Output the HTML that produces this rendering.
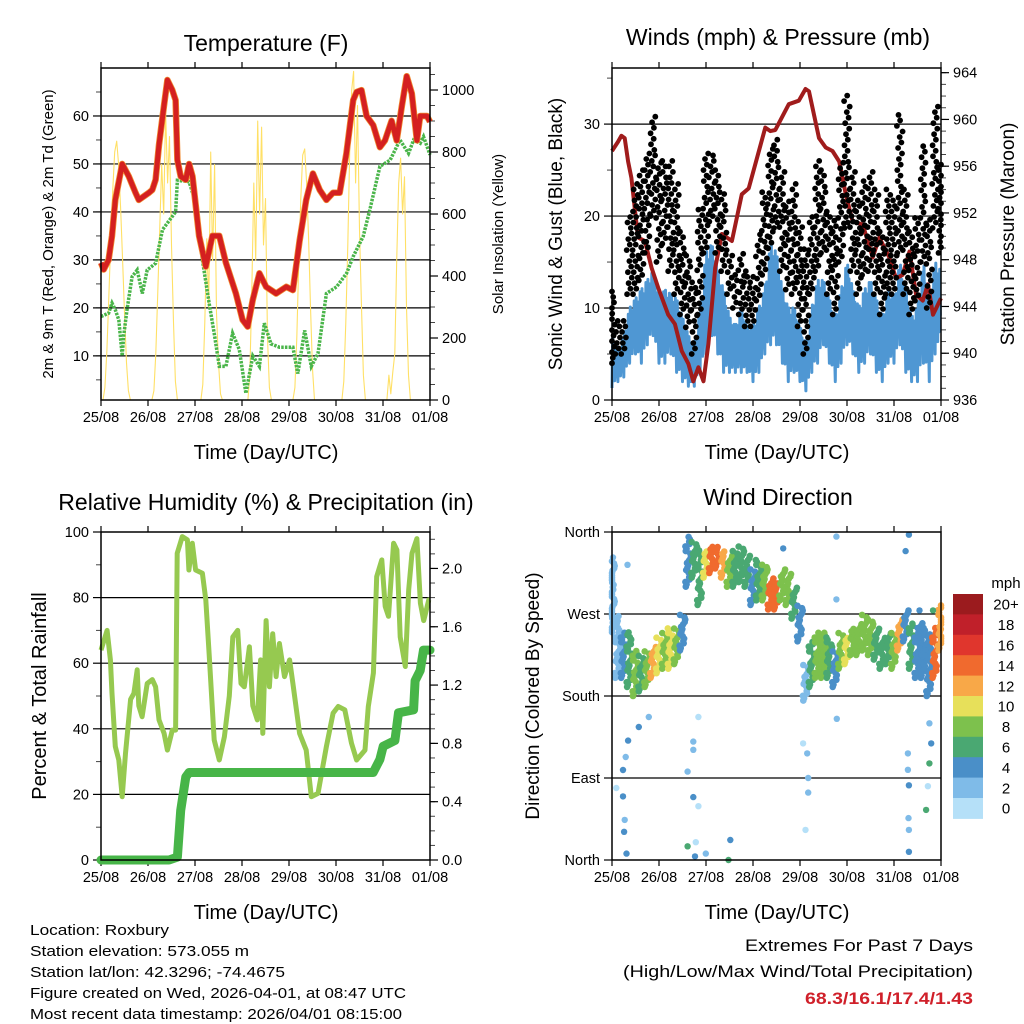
<!DOCTYPE html>
<html><head><meta charset="utf-8"><title>Station meteogram</title>
<style>
html,body{margin:0;padding:0;background:#fff;}
svg{display:block;font-family:"Liberation Sans",Arial,sans-serif;}
</style></head>
<body>
<svg id="fig" width="1024" height="1024" viewBox="0 0 1024 1024" xmlns="http://www.w3.org/2000/svg">
<rect x="0" y="0" width="1024" height="1024" fill="#fff"/>
<text x="266" y="51" font-size="23" text-anchor="middle">Temperature (F)</text>
<text x="778" y="45" font-size="23" text-anchor="middle">Winds (mph) &amp; Pressure (mb)</text>
<text x="266" y="510" font-size="23" text-anchor="middle">Relative Humidity (%) &amp; Precipitation (in)</text>
<text x="778" y="505" font-size="23" text-anchor="middle">Wind Direction</text>
<text x="266" y="459" font-size="20" text-anchor="middle">Time (Day/UTC)</text>
<text x="777" y="459" font-size="20" text-anchor="middle">Time (Day/UTC)</text>
<text x="266" y="919" font-size="20" text-anchor="middle">Time (Day/UTC)</text>
<text x="777" y="919" font-size="20" text-anchor="middle">Time (Day/UTC)</text>
<text transform="translate(53,234) rotate(-90)" font-size="15" text-anchor="middle">2m &amp; 9m T (Red, Orange) &amp; 2m Td (Green)</text>
<text transform="translate(503,234) rotate(-90)" font-size="15" text-anchor="middle">Solar Insolation (Yellow)</text>
<text transform="translate(562,234) rotate(-90)" font-size="19" text-anchor="middle">Sonic Wind &amp; Gust (Blue, Black)</text>
<text transform="translate(1014,234) rotate(-90)" font-size="19" text-anchor="middle">Station Pressure (Maroon)</text>
<text transform="translate(46,696) rotate(-90)" font-size="20" text-anchor="middle">Percent &amp; Total Rainfall</text>
<text transform="translate(539,696) rotate(-90)" font-size="19" text-anchor="middle">Direction (Colored By Speed)</text>
<g font-size="14.5">
<text x="30" y="935" textLength="139" lengthAdjust="spacingAndGlyphs">Location: Roxbury</text>
<text x="30" y="956" textLength="219" lengthAdjust="spacingAndGlyphs">Station elevation: 573.055 m</text>
<text x="30" y="977" textLength="255" lengthAdjust="spacingAndGlyphs">Station lat/lon: 42.3296; -74.4675</text>
<text x="30" y="998" textLength="376" lengthAdjust="spacingAndGlyphs">Figure created on Wed, 2026-04-01, at 08:47 UTC</text>
<text x="30" y="1019" textLength="372" lengthAdjust="spacingAndGlyphs">Most recent data timestamp: 2026/04/01 08:15:00</text>
</g>
<text x="973" y="951" font-size="17" text-anchor="end" textLength="228" lengthAdjust="spacingAndGlyphs">Extremes For Past 7 Days</text>
<text x="973" y="977" font-size="17" text-anchor="end" textLength="350" lengthAdjust="spacingAndGlyphs">(High/Low/Max Wind/Total Precipitation)</text>
<text x="973" y="1004" font-size="17" font-weight="bold" fill="#d0202a" text-anchor="end" textLength="168" lengthAdjust="spacingAndGlyphs">68.3/16.1/17.4/1.43</text>
<text x="1006" y="588" font-size="15" text-anchor="middle">mph</text>
</svg>
<script>
// ---------- DATA ----------
const dayLabels = ["25/08","26/08","27/08","28/08","29/08","30/08","31/08","01/08"];
const tempHours = [0,1.4,3.9,5.6,7.3,10.8,14.2,17.6,19.3,24.5,26.2,27.9,29.6,32.1,33.9,36.4,38.1,39,40.7,43.3,45,46.7,50.1,53.5,56.9,60.4,63.8,68.9,72.3,74.9,77.5,80.9,84.3,89.4,94.6,98,101.4,104.8,108.2,111.7,115.1,118.5,121.9,125.3,128.8,130.5,133,135.6,139,142.4,145,148.4,151,153.6,156.1,158.7,161.3,163,166.4,168];
const tempValues = [29.4,28,30,35,42.5,50,47.4,44,42.5,44,44.6,46.7,54,62,67.5,65.4,63.3,50.8,47.4,46.7,50,47.4,35,28.6,35,35,29.4,23,17.5,16.1,21.7,27.2,24.4,23,24.4,23.7,34,42.5,48,44.6,42.5,44,44,52.2,63.3,65,65.4,60,58.1,53.5,54.9,59,54.9,62,68.3,64.7,54.9,60,60,58.8];
const dewHours = [0,3.9,5.6,7.3,9.1,10.8,11.6,13.3,15.9,18.5,21.1,23.6,27.9,31.4,38.1,39,45,48.4,51.8,55.2,57.8,60.4,63.8,67.2,70.6,74,77.5,80.9,83.4,86.8,91.1,98,100.5,104,107.4,110.8,115.1,120.3,125.4,128.8,133.9,137.3,142.4,147.6,152.7,157,159.6,163,164.7,168];
const dewValues = [18.2,18.9,21,19.6,17.5,10,14.2,19.6,26.5,27.9,23,27.9,29.3,36.3,40,46.6,46.3,41.8,30,21,14.7,7.8,7.8,14.7,11.3,2.2,10,7.8,16.8,12.5,11.8,11.8,6.3,15.3,7.8,10.5,23,24.4,27.2,30.7,34.9,40.5,49.5,50.8,55,52.2,55,54.3,55.7,51.9];
const solarValues = [
0,0,40,160,330,520,680,800,835,760,620,460,280,120,30,0,0,0,0,0,0,0,0,0,
0,0,0,30,150,350,560,760,600,930,700,850,500,250,60,0,0,0,0,0,0,0,0,0,
0,0,0,0,50,250,520,300,800,450,760,280,120,20,0,0,0,0,0,0,0,0,0,0,
0,0,0,0,80,350,700,450,900,600,880,500,650,200,40,0,0,0,0,0,0,0,0,0,
0,0,0,40,200,450,650,790,810,700,520,300,100,0,0,0,0,0,0,0,0,0,0,0,
0,0,0,0,60,250,500,800,1000,1060,700,950,550,300,80,0,0,0,0,0,0,0,0,0,
0,0,0,80,20,90,150,450,700,780,600,720,300,80,0,0,0,0,0,0,0,0,0,0,0];
const gustHigh = [12,9,8.6,20,24,25,27,31,26,26,26.5,24,18.7,15.8,13,21,27,27,25,22.4,16.5,14,16,14,13.6,18,23,27.8,28.5,25,21.7,23.8,19.4,16.5,20,26.5,25,21,20,26,33.6,25,21.7,24,25,23,18.7,23,21.7,31,23,18.7,20,27.8,20,32.1,26];
const gustLow = [4,5,5,11.5,11.5,13,16,20,15,17,14,11.5,9.3,7.9,5,9.3,16,19.4,16,14,11.5,10,9.3,8,8,10.8,13.6,16.5,18.7,14,12,11.5,8,5,11.5,14,16,11.5,9.3,15,18.7,14,11.5,13.6,14,11.5,9.3,11.5,11.5,16,11.5,9.3,10.8,15,10,18.7,16];
const windLow = [1.3,2,2.5,4,5,4,6,7,4,4,5,3,2,1.5,1.5,3,5,7,5,3,3,3,3,3,2,3,5,6,6,4,2,3,2,1,3,4,6,4,2,4,6,5,3,4,5,3,2,4,4,6,3,2,2,4,2,5,6];
const windHigh = [7,5.5,7,10,11,12,13,14,11,12,11.5,11,9,7,6,10,16,17,14,12,9,8,10,8,8,10,12,17,16,12,10,10,8,6,10,13,13,11,9,12,15,12,10,12,13,11,9,12,11,15,12,9,10,15,11,15,14];
const presHours = [0,3.1,4.8,6.5,8.2,9.9,13.3,16.8,20.2,23.6,28.7,32.1,35.6,39,41.5,44.1,46.7,49.2,52.7,56.1,61.2,66.3,69.8,78.3,80.9,83.4,90.3,95.4,98.8,100.6,105.7,109.1,112.6,116,119.4,122.8,128,133.1,136.5,141.6,145,148.4,151.9,155.3,158.7,161.3,163.9,168];
const presValues = [957.3,958.1,958.6,958.4,956.4,955,949.9,949.6,947.3,945.6,943.3,942.5,940.2,939.1,937.6,938.8,937.6,940.8,947.3,950.2,949.6,953.6,954.1,959.3,959,959.1,961.3,961.6,962.6,962.4,958.4,957.6,957.3,956.4,953.6,951.3,951,948.2,949.9,948.2,946.4,946.7,948.7,945,944.5,945.9,943.3,944.7];
const rhHours = [0,3.1,4.8,5.6,7.3,9.1,10.8,12.5,15.1,16.8,18.5,19.3,21,23.6,26.2,27.9,29.6,32.2,33.9,36.4,38.1,38.9,41.5,44.1,44.9,46.6,48.3,51.8,53.5,55.2,57.8,60.4,63,65.5,67.3,69.8,71.5,73.2,75.8,77.5,79.8,81.5,82.6,84.3,86,87.7,89.4,91.1,93.7,96.3,98,101.4,104.8,107.4,110.8,115.1,118.5,121.1,124.5,127.9,130.5,134.8,136.5,139.1,140.8,143.4,145.1,146.8,149.4,151.1,152.8,155.4,157.1,158.8,161.3,163.1,164.8,167.4,168];
const rhValues = [64,70,61,50.8,34.6,30.5,19.3,32.5,49,50.8,58,47,43.7,53.8,55,52.8,42.7,38.6,33.5,39.6,39.6,93.5,98.6,97.6,88.4,96.6,88.4,87.4,79.3,63,36.6,30.5,37.6,50,68,70,53.8,52.8,65,47,42.7,61,38.6,73,52.8,69,55.9,66,55.9,61,53.8,38.6,33.5,19.3,20.3,34.6,44.8,46.8,45.8,35.6,30.5,33.5,46.8,57,86.4,91.5,77.3,74.3,96.6,94.5,68,59,82.4,93.5,98,78.3,73,79.3,79.3];
const rainHours = [0,34.7,39,40.7,43.3,45,139,142.4,144.1,150.1,151.9,159.6,160.4,163,164.7,168];
const rainValues = [0,0,0.02,0.34,0.57,0.6,0.6,0.69,0.78,0.82,1.01,1.03,1.23,1.3,1.44,1.44];
const dirLow = [250,200,200,190,180,185,190,200,205,210,210,215,230,300,310,280,310,315,320,310,300,300,305,300,280,285,285,275,275,285,280,265,240,175,190,200,200,200,190,210,215,225,225,230,225,220,210,215,210,230,240,210,200,200,180,200,230];
const dirHigh = [330,270,250,250,230,225,230,235,245,250,255,255,270,355,350,340,340,345,345,340,335,340,345,335,320,330,325,310,305,320,315,300,280,215,240,250,250,245,230,250,245,255,260,270,265,255,245,250,250,265,275,260,255,260,250,255,280];
const dirSpeed = [3,3,4,6,8,7,9,12,10,9,10,9,5,5,7,7,10,15,14,12,8,7,7,6,5,7,9,14,15,9,8,6,5,3,6,9,8,6,4,9,11,9,8,9,8,7,6,7,9,12,5,6,4,5,4,14,13];
const outHours = [0.5,5.6,5.6,6.5,6.2,7.4,7.9,8.2,7,2.2,13.7,18.8,38.6,41.5,44.1,41.5,41.5,44.1,42.8,38.6,42.4,47.9,60.4,59.5,114.6,114.6,87.4,97.6,99.7,100.2,100.2,98.8,114.8,151.6,149.9,151.1,151.1,151.6,151.4,151.6,151.6,161.3,160.4,162.1,163,162.1,157,163.9];
const outDir = [332,98.8,69.8,44,31,7,324,131,113,79,146,157,97,69,157,130,121,59,19.5,15,4,7,22,0,355,286,342,128,117,90,74,33,155,357,339,117,99,82,46,33,9,81,55,106,128,150,274,274];
const outSpeed = [2,4,4,3,4,4,2,4,2,1,4,2,2,4,0,2,2,1,0,6,4,2,4,7,2,2,4,1,3,2,2,0,3,4,4,2,2,4,2,2,4,0,7,6,4,3,4,6];
const cbLabels = ["20+","18","16","14","12","10","8","6","4","2","0"];
const cbColors = ["#9b1b1e","#c0202a","#e0362d","#f06a2e","#f8a848","#e7e05a","#7dc14d","#4aa872","#4a8fc8","#7fbbe8","#b5e0f8"];

// ---------- HELPERS ----------
const NS = "http://www.w3.org/2000/svg";
const fig = document.getElementById("fig");
function el(tag, attrs, name, parent, inter) {
  const e = document.createElementNS(NS, tag);
  for (const k in attrs) e.setAttribute(k, attrs[k]);
  
  
  (parent || fig).appendChild(e);
  return e;
}
function group(name) { return el("g", {}, name, fig, false); }
function lin(d0, d1, r0, r1) { return v => r0 + (v - d0) * (r1 - r0) / (d1 - d0); }
function pts(xs, ys, fx, fy) { return xs.map((h, i) => fx(h).toFixed(1) + "," + fy(ys[i]).toFixed(1)).join(" "); }
function spdColor(s) { let b = Math.min(10, Math.max(0, Math.floor(s / 2))); return cbColors[10 - b]; }
function clampH(h) { return Math.min(168, Math.max(0, h)); }
// deterministic scatter layout offsets (layout only, not data)
const jx = [-1.3,0.4,-0.5,1.1,-0.9,0.8,-0.1,1.4,-1.5,0.1,-0.7,1.0,0.6,-1.1,0.3];

const P = {
  t: {x0:101,x1:430,y0:68,y1:400},
  w: {x0:612,x1:941,y0:68,y1:400},
  r: {x0:101,x1:430,y0:532,y1:860},
  d: {x0:612,x1:941,y0:532,y1:860}
};
function timeAxis(p, key) {
  const fx = lin(0, 168, p.x0, p.x1);
  const g = group(key + "-x-axis");
  dayLabels.forEach((lab, i) => {
    const x = fx(i * 24);
    el("line", {x1:x,x2:x,y1:p.y1,y2:p.y1+6,stroke:"#000","stroke-width":1.2}, "x-tick", g);
    el("line", {x1:x,x2:x,y1:p.y0-6,y2:p.y0,stroke:"#000","stroke-width":1.2}, "x-tick-top", g);
    const t = el("text", {x:x,y:p.y1+22,"font-size":14.5,"text-anchor":"middle"}, "x-tick-label", g);
    t.textContent = lab;
  });
  return fx;
}
function yAxis(p, key, side, d0, d1, majors, minors, fmt, grid) {
  const fy = lin(d0, d1, p.y1, p.y0);
  const g = group(key + "-" + side + "-axis");
  const xe = side === "left" ? p.x0 : p.x1, dir = side === "left" ? -1 : 1;
  minors.forEach(v => { const y = fy(v);
    el("line", {x1:xe,x2:xe+dir*5,y1:y,y2:y,stroke:"#444","stroke-width":1}, "y-minor-tick", g); });
  majors.forEach(v => { const y = fy(v);
    el("line", {x1:xe,x2:xe+dir*8,y1:y,y2:y,stroke:"#000","stroke-width":1.2}, "y-tick", g);
    const t = el("text", {x: xe + dir*12, y: y+5, "font-size":14.5, "text-anchor": side==="left"?"end":"start"}, "y-tick-label", g);
    t.textContent = fmt(v);
  });
  if (grid) grid.forEach(v => { const y = fy(v);
    el("line", {x1:p.x0,x2:p.x1,y1:y,y2:y,stroke:"#000","stroke-width":1.2}, "grid-line", g); });
  return fy;
}
function frame(p, key) {
  el("rect", {x:p.x0,y:p.y0,width:p.x1-p.x0,height:p.y1-p.y0,fill:"none",stroke:"#000","stroke-width":1.5}, key + "-plot-frame", fig);
}
function range(a, b, s) { const r = []; for (let v = a; v <= b + 1e-9; v += s) r.push(+v.toFixed(3)); return r; }

// ---------- PANEL 1: TEMPERATURE ----------
{
  const p = P.t;
  const fx = timeAxis(p, "temperature");
  const fyT = yAxis(p, "temperature", "left", 0.8, 70, [10,20,30,40,50,60], range(5,65,5), v => v, [10,20,30,40,50,60]);
  const fyS = yAxis(p, "solar", "right", 0, 1071, [0,200,400,600,800,1000], range(0,1050,50), v => v, null);
  const g = group("temperature-series");
  const sh = solarValues.map((v, i) => i);
  el("polyline", {points: pts(sh, solarValues, fx, fyS), fill:"none", stroke:"#ffe066", "stroke-width":1.1, "stroke-linejoin":"round"}, "solar-insolation-line", g);
  el("polyline", {points: pts(dewHours, dewValues, fx, fyT), fill:"none", stroke:"#4ab54a", "stroke-width":3.5, "stroke-dasharray":"2.5 1.2"}, "dewpoint-line", g);
  el("polyline", {points: pts(tempHours, tempValues, fx, fyT), fill:"none", stroke:"#f08a30", "stroke-width":6.5, "stroke-linejoin":"round"}, "temp-9m-line", g);
  el("polyline", {points: pts(tempHours, tempValues, fx, fyT), fill:"none", stroke:"#d42020", "stroke-width":5, "stroke-linejoin":"round"}, "temp-2m-line", g);
  frame(p, "temperature");
}
// ---------- PANEL 2: WINDS ----------
{
  const p = P.w;
  const fx = timeAxis(p, "winds");
  const fyW = yAxis(p, "wind", "left", 0, 36.1, [0,10,20,30], [5,15,25,35], v => v, [10,20,30]);
  const fyP = yAxis(p, "pressure", "right", 936, 964.4, range(936,964,4), range(936,964,1), v => v, null);
  const g = group("winds-series");
  // gust dots (drawn first, blue over them like reference)
  const gg = group("gust-points");
  gustHigh.forEach((hi, i) => {
    const lo = gustLow[i];
    let j = 0;
    for (let v = lo; v <= hi + 0.01; v += 0.6, j++) {
      const dh = jx[j % jx.length];
      const c = el("circle", {cx: fx(clampH(i*3 + dh)).toFixed(1), cy: fyW(v).toFixed(1), r: 2.9, fill:"#000"}, "gust-point", gg);
    }
  });
  // sustained wind band
  const sub = [0, 1, 0.35, 0.9, 0.1, 0.75, 0.2, 1, 0.4];
  let zz = [];
  for (let i = 0; i < windLow.length - 1; i++) {
    for (let k = 0; k < sub.length; k++) {
      const f = k / sub.length, h = (i + f) * 3;
      const lo = windLow[i] + (windLow[i+1] - windLow[i]) * f;
      const hi = windHigh[i] + (windHigh[i+1] - windHigh[i]) * f;
      zz.push(fx(h).toFixed(1) + "," + fyW(lo + (hi - lo) * sub[k]).toFixed(1));
    }
  }
  el("polyline", {points: zz.join(" "), fill:"none", stroke:"#4f97d3", "stroke-width":3, "stroke-linejoin":"round"}, "sonic-wind-line", g);
  el("polyline", {points: pts(presHours, presValues, fx, fyP), fill:"none", stroke:"#a01c1c", "stroke-width":4, "stroke-linejoin":"round"}, "pressure-line", g);
  frame(p, "winds");
}
// ---------- PANEL 3: HUMIDITY ----------
{
  const p = P.r;
  const fx = timeAxis(p, "humidity");
  const fyR = yAxis(p, "humidity", "left", 0, 100, [0,20,40,60,80,100], range(10,90,20), v => v, [20,40,60,80]);
  const fyP = yAxis(p, "rain", "right", 0, 2.25, [0,0.4,0.8,1.2,1.6,2.0], range(0,2.2,0.1), v => v.toFixed(1), null);
  const g = group("humidity-series");
  el("polyline", {points: pts(rhHours, rhValues, fx, fyR), fill:"none", stroke:"#96c950", "stroke-width":5, "stroke-linejoin":"round"}, "humidity-line", g);
  el("polyline", {points: pts(rainHours, rainValues, fx, fyP), fill:"none", stroke:"#47b548", "stroke-width":9, "stroke-linejoin":"round", "stroke-linecap":"round"}, "precipitation-line", g);
  frame(p, "humidity");
}
// ---------- PANEL 4: WIND DIRECTION ----------
{
  const p = P.d;
  const fx = timeAxis(p, "direction");
  const names = ["North","East","South","West","North"];
  const fyD = yAxis(p, "direction", "left", 0, 360, [0,90,180,270,360], [], v => names[v/90], [90,180,270]);
  const g = group("direction-points");
  dirLow.forEach((lo, i) => {
    const hi = dirHigh[i];
    let j = 0;
    for (let v = lo; v <= hi + 0.01; v += 2.6, j++) {
      const dh = jx[(j * 4) % jx.length];
      const c = el("circle", {cx: fx(clampH(i*3 + dh)).toFixed(1), cy: fyD(v).toFixed(1), r: 3.3, fill: spdColor(dirSpeed[i])}, "direction-point", g);
    }
  });
  outHours.forEach((h, i) => {
    const c = el("circle", {cx: fx(h).toFixed(1), cy: fyD(outDir[i]).toFixed(1), r: 3.2, fill: spdColor(outSpeed[i])}, "direction-point", g);
  });
  frame(p, "direction");
  const cb = group("speed-colorbar");
  const top = 594, bh = 20.4;
  cbLabels.forEach((lab, i) => {
    el("rect", {x:953, y:(top + i*bh).toFixed(1), width:30, height:(bh+0.5).toFixed(1), fill:cbColors[i]}, "colorbar-swatch", cb);
    const t = el("text", {x:1006, y:(top + i*bh + bh/2 + 5.5).toFixed(1), "font-size":15, "text-anchor":"middle"}, "colorbar-label", cb);
    t.textContent = lab;
  });
}
</script>
</body></html>
